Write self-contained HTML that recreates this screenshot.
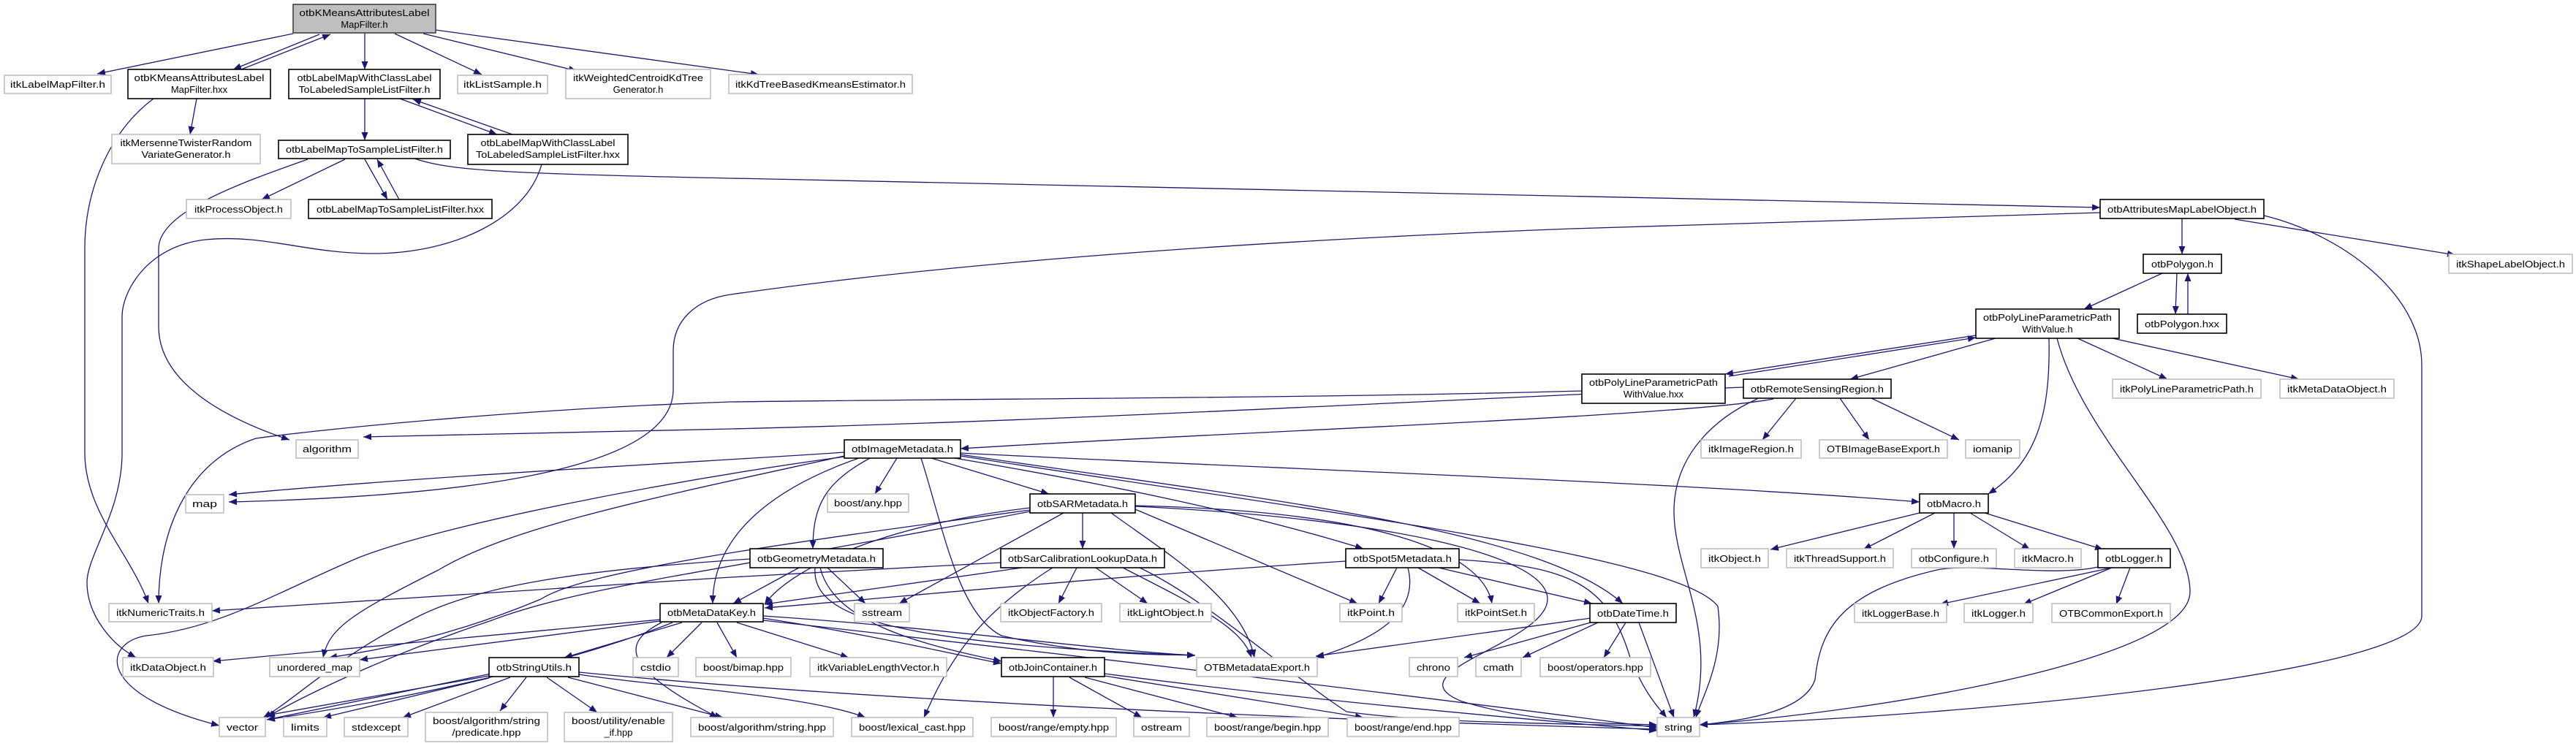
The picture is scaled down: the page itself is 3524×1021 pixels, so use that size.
<!DOCTYPE html>
<html><head><meta charset="utf-8"><style>
html,body{margin:0;padding:0;background:#fff;width:3524px;height:1021px;overflow:hidden}
svg{display:block}
text{font-family:"Liberation Sans",sans-serif;font-size:13px;fill:#000;text-anchor:middle}
.g{fill:#fff;stroke:#bfbfbf;stroke-width:1.6}
.b{fill:#fff;stroke:#000;stroke-width:1.6}
.r{fill:#bfbfbf;stroke:#404040;stroke-width:1.6}
path.e{fill:none;stroke:#191970;stroke-width:1.3}
</style></head><body>
<svg width="3524" height="1021" viewBox="0 0 3524 1021" xmlns="http://www.w3.org/2000/svg">
<defs><marker id="a" markerUnits="userSpaceOnUse" markerWidth="12" markerHeight="9" refX="11" refY="4.5" orient="auto"><path d="M0,0 L11,4.5 L0,9 z" fill="#191970"/></marker></defs>
<g marker-end="url(#a)">
<path class="e" d="M401,46 L133,101"/>
<path class="e" d="M437,47 L319,95"/>
<path class="e" d="M330,95 L452,47"/>
<path class="e" d="M499,45 L499,95"/>
<path class="e" d="M540,46 L659,102"/>
<path class="e" d="M579,46 L789,97"/>
<path class="e" d="M596,41 L1038,102"/>
<path class="e" d="M269,135 L260,184"/>
<path class="e" d="M210,135 C150,180 116,260 116,340 L116,620 C116,700 180,760 203,826"/>
<path class="e" d="M741,225 C720,300 620,347 510,347 C420,347 360,320 281,328 C200,337 167,400 167,433 L167,620 C167,700 119,760 119,797 C119,840 150,880 186,900"/>
<path class="e" d="M421,218 C330,250 217,290 217,340 L217,447 C217,520 300,570 396,602"/>
<path class="e" d="M499,135 L499,192"/>
<path class="e" d="M547,135 L680,184"/>
<path class="e" d="M701,184 L565,136"/>
<path class="e" d="M472,218 L358,273"/>
<path class="e" d="M499,218 L530,273"/>
<path class="e" d="M546,273 L516,218"/>
<path class="e" d="M567,217 C620,235 700,238 1100,246 L2873,284"/>
<path class="e" d="M2985,299 L2985,348"/>
<path class="e" d="M3057,300 L3359,349"/>
<path class="e" d="M3097,295 C3200,320 3313,400 3313,500 L3313,843 C3313,920 2700,980 2325,992"/>
<path class="e" d="M2873,291 L2150,313 C1700,330 1300,360 1000,403 C950,410 921,440 921,480 L921,533 C921,650 600,680 313,687"/>
<path class="e" d="M2978,374 L2976,430"/>
<path class="e" d="M2993,430 L2993,374"/>
<path class="e" d="M2958,374 L2851,423"/>
<path class="e" d="M2703,459 L2360,512"/>
<path class="e" d="M2365,515 L2703,462"/>
<path class="e" d="M2730,463 L2531,519"/>
<path class="e" d="M2842,463 L2965,519"/>
<path class="e" d="M2890,463 L3145,519"/>
<path class="e" d="M2803,463 C2805,560 2790,630 2720,676"/>
<path class="e" d="M2814,463 C2850,600 2996,720 2996,810 C2996,900 2600,970 2325,992"/>
<path class="e" d="M2164,535 C1800,545 1400,545 1000,550 C700,560 420,590 350,600 C260,630 217,720 217,826"/>
<path class="e" d="M2385,530 C2000,545 1500,575 1000,587 L497,598"/>
<path class="e" d="M2457,545 L2411,602"/>
<path class="e" d="M2517,545 L2557,602"/>
<path class="e" d="M2560,545 L2680,602"/>
<path class="e" d="M2426,546 C2300,570 1700,590 1314,614"/>
<path class="e" d="M2404,546 C2350,570 2290,620 2290,700 C2290,780 2350,860 2317,982"/>
<path class="e" d="M1155,619 C1000,630 600,650 313,677"/>
<path class="e" d="M1314,620 C1700,640 2300,660 2626,687"/>
<path class="e" d="M1227,627 L1197,676"/>
<path class="e" d="M1274,627 L1435,676"/>
<path class="e" d="M1175,627 C1080,660 975,720 975,826"/>
<path class="e" d="M1190,627 C1130,660 1112,690 1112,751"/>
<path class="e" d="M1260,627 C1290,720 1310,840 1370,870 C1500,900 1600,895 1635,897"/>
<path class="e" d="M1306,627 C1500,660 1700,700 1865,751"/>
<path class="e" d="M1314,622 C1700,680 2100,720 2220,826"/>
<path class="e" d="M1155,625 C900,660 600,720 491,763 C380,810 300,860 200,870 C140,880 130,950 300,993"/>
<path class="e" d="M1155,624 C900,680 700,720 600,780 C480,840 450,860 442,900"/>
<path class="e" d="M1314,624 C1800,700 2300,760 2350,830 C2360,900 2330,950 2320,982"/>
<path class="e" d="M1481,702 L1481,751"/>
<path class="e" d="M1455,702 L1230,826"/>
<path class="e" d="M1520,702 C1600,760 1700,820 1716,900"/>
<path class="e" d="M1553,697 L1857,826"/>
<path class="e" d="M1553,692 C1900,700 2030,760 2041,826"/>
<path class="e" d="M1553,693 C1900,710 2117,760 2117,820 C2117,880 1900,920 2000,960 C2100,990 2200,990 2267,992"/>
<path class="e" d="M1409,695 C1200,720 1080,780 1046,827"/>
<path class="e" d="M1409,698 C1100,740 800,780 740,820 C620,870 520,890 450,900"/>
<path class="e" d="M1409,700 C1000,780 800,800 670,850 C520,900 400,960 365,982"/>
<path class="e" d="M1093,777 L1003,826"/>
<path class="e" d="M1132,777 L1184,826"/>
<path class="e" d="M1115,777 C1110,840 1200,880 1635,897"/>
<path class="e" d="M1122,777 C1140,850 1250,880 1370,905"/>
<path class="e" d="M1026,765 C800,780 650,800 560,850 C460,900 400,960 360,982"/>
<path class="e" d="M1369,770 L1000,790 L290,836"/>
<path class="e" d="M1473,777 L1448,826"/>
<path class="e" d="M1499,777 L1570,826"/>
<path class="e" d="M1398,777 L1046,827"/>
<path class="e" d="M1536,777 C1640,830 1700,860 1712,900"/>
<path class="e" d="M1440,777 C1340,840 1300,900 1264,982"/>
<path class="e" d="M1559,777 C1650,820 1760,920 1842,974 C1950,990 2150,990 2267,994"/>
<path class="e" d="M1911,777 L1886,826"/>
<path class="e" d="M1940,777 L2025,826"/>
<path class="e" d="M1926,777 C1940,830 1900,870 1800,900"/>
<path class="e" d="M1968,777 L2178,826"/>
<path class="e" d="M1841,768 C1500,790 1200,820 1046,832"/>
<path class="e" d="M1996,766 C2150,775 2200,800 2230,900 C2250,950 2270,970 2280,982"/>
<path class="e" d="M903,848 L291,905"/>
<path class="e" d="M903,850 L492,903"/>
<path class="e" d="M920,852 C800,900 600,950 365,985"/>
<path class="e" d="M933,852 L772,900"/>
<path class="e" d="M960,852 L912,900"/>
<path class="e" d="M981,852 L1008,900"/>
<path class="e" d="M1008,852 L1161,900"/>
<path class="e" d="M1044,843 C1300,860 1500,890 1635,897"/>
<path class="e" d="M1044,846 C1200,870 1300,895 1370,908"/>
<path class="e" d="M905,852 C850,880 849,913 982,982"/>
<path class="e" d="M1044,849 C1500,900 2000,960 2267,996"/>
<path class="e" d="M669,925 L365,979"/>
<path class="e" d="M672,922 L365,985"/>
<path class="e" d="M669,928 L442,982"/>
<path class="e" d="M698,927 L551,982"/>
<path class="e" d="M720,927 L684,973"/>
<path class="e" d="M748,927 L817,975"/>
<path class="e" d="M777,927 L989,982"/>
<path class="e" d="M792,923 C900,940 1100,950 1184,982"/>
<path class="e" d="M792,920 C1200,960 1800,985 2267,998"/>
<path class="e" d="M1441,926 L1441,982"/>
<path class="e" d="M1463,927 L1562,982"/>
<path class="e" d="M1484,927 L1693,982"/>
<path class="e" d="M1511,925 L1865,982"/>
<path class="e" d="M1511,922 C1800,960 2100,985 2267,1000"/>
<path class="e" d="M2224,852 L2194,900"/>
<path class="e" d="M2242,852 L2290,982"/>
<path class="e" d="M2176,852 L2003,900"/>
<path class="e" d="M2186,852 L2083,900"/>
<path class="e" d="M2176,846 L1800,898"/>
<path class="e" d="M2626,702 L2422,752"/>
<path class="e" d="M2647,702 L2549,752"/>
<path class="e" d="M2673,702 L2673,751"/>
<path class="e" d="M2695,702 L2777,752"/>
<path class="e" d="M2715,702 L2877,752"/>
<path class="e" d="M2889,777 L2654,827"/>
<path class="e" d="M2889,777 L2768,827"/>
<path class="e" d="M2914,777 L2895,827"/>
<path class="e" d="M2870,776 C2807,790 2700,770 2650,780 C2520,810 2490,860 2483,930 C2470,970 2400,985 2325,992"/>
</g>

<!-- nodes -->
<rect class="r" x="401" y="6" width="195" height="39"/><text x="498.5" y="22" textLength="178" lengthAdjust="spacingAndGlyphs">otbKMeansAttributesLabel</text><text x="498.5" y="38">MapFilter.h</text>
<rect class="g" x="6" y="103" width="146" height="25"/><text x="79" y="120" textLength="130" lengthAdjust="spacingAndGlyphs">itkLabelMapFilter.h</text>
<rect class="b" x="175" y="95" width="195" height="40"/><text x="272.5" y="111" textLength="178" lengthAdjust="spacingAndGlyphs">otbKMeansAttributesLabel</text><text x="272.5" y="127">MapFilter.hxx</text>
<rect class="b" x="395" y="95" width="207" height="40"/><text x="498.5" y="111" textLength="184" lengthAdjust="spacingAndGlyphs">otbLabelMapWithClassLabel</text><text x="498.5" y="127" textLength="180" lengthAdjust="spacingAndGlyphs">ToLabeledSampleListFilter.h</text>
<rect class="g" x="626" y="103" width="123" height="25"/><text x="687.5" y="120" textLength="107" lengthAdjust="spacingAndGlyphs">itkListSample.h</text>
<rect class="g" x="774" y="95" width="198" height="40"/><text x="873" y="111" textLength="178" lengthAdjust="spacingAndGlyphs">itkWeightedCentroidKdTree</text><text x="873" y="127">Generator.h</text>
<rect class="g" x="997" y="102" width="251" height="26"/><text x="1122.5" y="120" textLength="233" lengthAdjust="spacingAndGlyphs">itkKdTreeBasedKmeansEstimator.h</text>
<rect class="g" x="153" y="184" width="203" height="40"/><text x="254.5" y="200" textLength="180" lengthAdjust="spacingAndGlyphs">itkMersenneTwisterRandom</text><text x="254.5" y="216" textLength="122" lengthAdjust="spacingAndGlyphs">VariateGenerator.h</text>
<rect class="b" x="381" y="192" width="235" height="25"/><text x="498.5" y="209" textLength="215" lengthAdjust="spacingAndGlyphs">otbLabelMapToSampleListFilter.h</text>
<rect class="b" x="640" y="184" width="219" height="41"/><text x="749.5" y="200" textLength="184" lengthAdjust="spacingAndGlyphs">otbLabelMapWithClassLabel</text><text x="749.5" y="216" textLength="197" lengthAdjust="spacingAndGlyphs">ToLabeledSampleListFilter.hxx</text>
<rect class="g" x="255" y="273" width="143" height="26"/><text x="326.5" y="291" textLength="121" lengthAdjust="spacingAndGlyphs">itkProcessObject.h</text>
<rect class="b" x="422" y="273" width="251" height="26"/><text x="547.5" y="291" textLength="229" lengthAdjust="spacingAndGlyphs">otbLabelMapToSampleListFilter.hxx</text>
<rect class="b" x="2873" y="273" width="224" height="26"/><text x="2985" y="291" textLength="204" lengthAdjust="spacingAndGlyphs">otbAttributesMapLabelObject.h</text>
<rect class="g" x="3350" y="348" width="169" height="26"/><text x="3434.5" y="366" textLength="149" lengthAdjust="spacingAndGlyphs">itkShapeLabelObject.h</text>
<rect class="b" x="2932" y="348" width="107" height="26"/><text x="2985.5" y="366" textLength="85" lengthAdjust="spacingAndGlyphs">otbPolygon.h</text>
<rect class="b" x="2924" y="430" width="122" height="26"/><text x="2985" y="448" textLength="102" lengthAdjust="spacingAndGlyphs">otbPolygon.hxx</text>
<rect class="b" x="2703" y="423" width="196" height="40"/><text x="2801" y="439" textLength="176" lengthAdjust="spacingAndGlyphs">otbPolyLineParametricPath</text><text x="2801" y="455">WithValue.h</text>
<rect class="b" x="2164" y="512" width="196" height="40"/><text x="2262" y="528" textLength="176" lengthAdjust="spacingAndGlyphs">otbPolyLineParametricPath</text><text x="2262" y="544">WithValue.hxx</text>
<rect class="b" x="2385" y="519" width="202" height="26"/><text x="2486" y="537" textLength="182" lengthAdjust="spacingAndGlyphs">otbRemoteSensingRegion.h</text>
<rect class="g" x="2890" y="519" width="203" height="26"/><text x="2991.5" y="537" textLength="183" lengthAdjust="spacingAndGlyphs">itkPolyLineParametricPath.h</text>
<rect class="g" x="3119" y="519" width="156" height="26"/><text x="3197" y="537" textLength="136" lengthAdjust="spacingAndGlyphs">itkMetaDataObject.h</text>
<rect class="g" x="405" y="602" width="85" height="25"/><text x="447.5" y="619" textLength="67" lengthAdjust="spacingAndGlyphs">algorithm</text>
<rect class="b" x="1155" y="602" width="159" height="25"/><text x="1234.5" y="619" textLength="139" lengthAdjust="spacingAndGlyphs">otbImageMetadata.h</text>
<rect class="g" x="2327" y="602" width="137" height="25"/><text x="2395.5" y="619" textLength="117" lengthAdjust="spacingAndGlyphs">itkImageRegion.h</text>
<rect class="g" x="2489" y="602" width="175" height="25"/><text x="2576.5" y="619" textLength="155" lengthAdjust="spacingAndGlyphs">OTBImageBaseExport.h</text>
<rect class="g" x="2689" y="602" width="74" height="25"/><text x="2726" y="619" textLength="54" lengthAdjust="spacingAndGlyphs">iomanip</text>
<rect class="g" x="254" y="677" width="52" height="25"/><text x="280" y="694" textLength="34" lengthAdjust="spacingAndGlyphs">map</text>
<rect class="g" x="1132" y="676" width="111" height="25"/><text x="1187.5" y="693" textLength="93" lengthAdjust="spacingAndGlyphs">boost/any.hpp</text>
<rect class="b" x="1409" y="676" width="144" height="26"/><text x="1481" y="694" textLength="124" lengthAdjust="spacingAndGlyphs">otbSARMetadata.h</text>
<rect class="b" x="2626" y="676" width="94" height="26"/><text x="2673" y="694" textLength="74" lengthAdjust="spacingAndGlyphs">otbMacro.h</text>
<rect class="b" x="1026" y="751" width="182" height="26"/><text x="1117" y="769" textLength="162" lengthAdjust="spacingAndGlyphs">otbGeometryMetadata.h</text>
<rect class="b" x="1369" y="751" width="224" height="26"/><text x="1481" y="769" textLength="204" lengthAdjust="spacingAndGlyphs">otbSarCalibrationLookupData.h</text>
<rect class="b" x="1841" y="751" width="155" height="26"/><text x="1918.5" y="769" textLength="135" lengthAdjust="spacingAndGlyphs">otbSpot5Metadata.h</text>
<rect class="g" x="2327" y="751" width="92" height="26"/><text x="2373" y="769" textLength="72" lengthAdjust="spacingAndGlyphs">itkObject.h</text>
<rect class="g" x="2444" y="751" width="146" height="26"/><text x="2517" y="769" textLength="126" lengthAdjust="spacingAndGlyphs">itkThreadSupport.h</text>
<rect class="g" x="2615" y="751" width="116" height="26"/><text x="2673" y="769" textLength="96" lengthAdjust="spacingAndGlyphs">otbConfigure.h</text>
<rect class="g" x="2756" y="751" width="91" height="26"/><text x="2801.5" y="769" textLength="71" lengthAdjust="spacingAndGlyphs">itkMacro.h</text>
<rect class="b" x="2870" y="751" width="99" height="26"/><text x="2919.5" y="769" textLength="79" lengthAdjust="spacingAndGlyphs">otbLogger.h</text>
<rect class="g" x="149" y="826" width="141" height="25"/><text x="219.5" y="843" textLength="121" lengthAdjust="spacingAndGlyphs">itkNumericTraits.h</text>
<rect class="b" x="903" y="826" width="141" height="25"/><text x="973.5" y="843" textLength="121" lengthAdjust="spacingAndGlyphs">otbMetaDataKey.h</text>
<rect class="g" x="1169" y="826" width="75" height="25"/><text x="1206.5" y="843" textLength="55" lengthAdjust="spacingAndGlyphs">sstream</text>
<rect class="g" x="1369" y="826" width="138" height="25"/><text x="1438" y="843" textLength="118" lengthAdjust="spacingAndGlyphs">itkObjectFactory.h</text>
<rect class="g" x="1532" y="826" width="125" height="25"/><text x="1594.5" y="843" textLength="105" lengthAdjust="spacingAndGlyphs">itkLightObject.h</text>
<rect class="g" x="1833" y="826" width="85" height="25"/><text x="1875.5" y="843" textLength="65" lengthAdjust="spacingAndGlyphs">itkPoint.h</text>
<rect class="g" x="1994" y="826" width="105" height="25"/><text x="2046.5" y="843" textLength="85" lengthAdjust="spacingAndGlyphs">itkPointSet.h</text>
<rect class="b" x="2175" y="826" width="118" height="26"/><text x="2234" y="844" textLength="98" lengthAdjust="spacingAndGlyphs">otbDateTime.h</text>
<rect class="g" x="2537" y="826" width="126" height="26"/><text x="2600" y="844" textLength="106" lengthAdjust="spacingAndGlyphs">itkLoggerBase.h</text>
<rect class="g" x="2687" y="826" width="94" height="26"/><text x="2734" y="844" textLength="74" lengthAdjust="spacingAndGlyphs">itkLogger.h</text>
<rect class="g" x="2807" y="826" width="162" height="26"/><text x="2888" y="844" textLength="142" lengthAdjust="spacingAndGlyphs">OTBCommonExport.h</text>
<rect class="g" x="168" y="900" width="124" height="26"/><text x="230" y="918" textLength="104" lengthAdjust="spacingAndGlyphs">itkDataObject.h</text>
<rect class="g" x="369" y="900" width="123" height="26"/><text x="430.5" y="918" textLength="103" lengthAdjust="spacingAndGlyphs">unordered_map</text>
<rect class="b" x="669" y="900" width="123" height="26"/><text x="730.5" y="918" textLength="103" lengthAdjust="spacingAndGlyphs">otbStringUtils.h</text>
<rect class="g" x="866" y="900" width="62" height="26"/><text x="897" y="918" textLength="42" lengthAdjust="spacingAndGlyphs">cstdio</text>
<rect class="g" x="952" y="900" width="130" height="26"/><text x="1017" y="918" textLength="110" lengthAdjust="spacingAndGlyphs">boost/bimap.hpp</text>
<rect class="g" x="1108" y="900" width="187" height="26"/><text x="1201.5" y="918" textLength="167" lengthAdjust="spacingAndGlyphs">itkVariableLengthVector.h</text>
<rect class="b" x="1370" y="900" width="141" height="26"/><text x="1440.5" y="918" textLength="121" lengthAdjust="spacingAndGlyphs">otbJoinContainer.h</text>
<rect class="g" x="1637" y="900" width="165" height="26"/><text x="1719.5" y="918" textLength="145" lengthAdjust="spacingAndGlyphs">OTBMetadataExport.h</text>
<rect class="g" x="1928" y="900" width="66" height="26"/><text x="1961" y="918" textLength="46" lengthAdjust="spacingAndGlyphs">chrono</text>
<rect class="g" x="2019" y="900" width="62" height="26"/><text x="2050" y="918" textLength="42" lengthAdjust="spacingAndGlyphs">cmath</text>
<rect class="g" x="2107" y="900" width="151" height="26"/><text x="2182.5" y="918" textLength="131" lengthAdjust="spacingAndGlyphs">boost/operators.hpp</text>
<rect class="g" x="300" y="982" width="63" height="26"/><text x="331.5" y="1000" textLength="43" lengthAdjust="spacingAndGlyphs">vector</text>
<rect class="g" x="388" y="982" width="59" height="26"/><text x="417.5" y="1000" textLength="39" lengthAdjust="spacingAndGlyphs">limits</text>
<rect class="g" x="471" y="982" width="87" height="26"/><text x="514.5" y="1000" textLength="67" lengthAdjust="spacingAndGlyphs">stdexcept</text>
<rect class="g" x="582" y="975" width="167" height="40"/><text x="665.5" y="991" textLength="147" lengthAdjust="spacingAndGlyphs">boost/algorithm/string</text><text x="665.5" y="1007" textLength="94" lengthAdjust="spacingAndGlyphs">/predicate.hpp</text>
<rect class="g" x="772" y="975" width="148" height="40"/><text x="846" y="991" textLength="128" lengthAdjust="spacingAndGlyphs">boost/utility/enable</text><text x="846" y="1007">_if.hpp</text>
<rect class="g" x="945" y="982" width="195" height="26"/><text x="1042.5" y="1000" textLength="175" lengthAdjust="spacingAndGlyphs">boost/algorithm/string.hpp</text>
<rect class="g" x="1165" y="982" width="166" height="26"/><text x="1248" y="1000" textLength="146" lengthAdjust="spacingAndGlyphs">boost/lexical_cast.hpp</text>
<rect class="g" x="1356" y="982" width="171" height="26"/><text x="1441.5" y="1000" textLength="151" lengthAdjust="spacingAndGlyphs">boost/range/empty.hpp</text>
<rect class="g" x="1551" y="982" width="76" height="26"/><text x="1589" y="1000" textLength="56" lengthAdjust="spacingAndGlyphs">ostream</text>
<rect class="g" x="1651" y="982" width="166" height="26"/><text x="1734" y="1000" textLength="146" lengthAdjust="spacingAndGlyphs">boost/range/begin.hpp</text>
<rect class="g" x="1843" y="982" width="153" height="26"/><text x="1919.5" y="1000" textLength="133" lengthAdjust="spacingAndGlyphs">boost/range/end.hpp</text>
<rect class="g" x="2267" y="982" width="58" height="26"/><text x="2296" y="1000" textLength="38" lengthAdjust="spacingAndGlyphs">string</text>
</svg>
</body></html>
